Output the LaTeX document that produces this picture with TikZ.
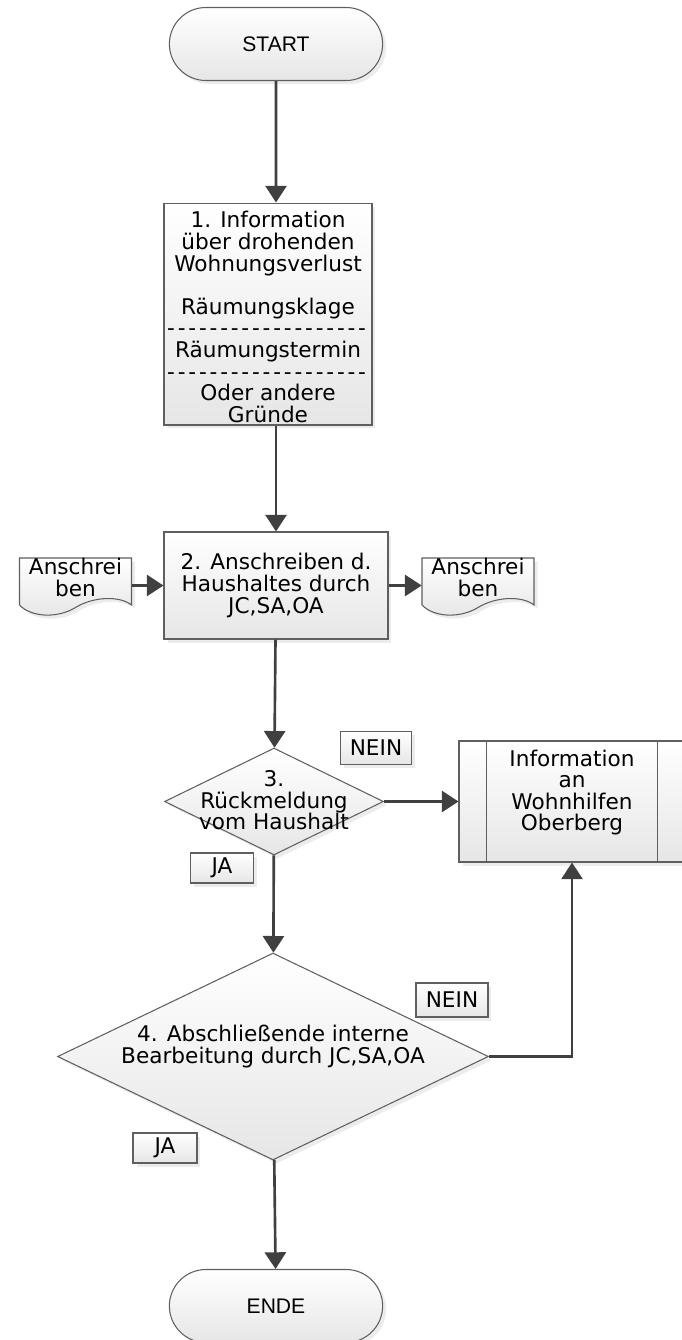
\documentclass[tikz,border=0pt]{standalone}
\usepackage{fontspec}
\setmainfont{DejaVu Sans}
\newfontfamily\termfont{Liberation Sans}
\usetikzlibrary{positioning}
\usetikzlibrary{calc}
\usetikzlibrary{arrows.meta}
\usetikzlibrary{shapes.geometric}
\usetikzlibrary{shapes.misc}
\usetikzlibrary{shadows}
\definecolor{LineGray}{RGB}{95,95,95}
\definecolor{FlowGray}{RGB}{64,64,64}
\definecolor{FillGray}{RGB}{230,230,230}
\newcommand{\trennlinie}{\foreach \i in {1,...,19}{-\kern1.6pt}}

\begin{document}
\begin{tikzpicture}[
 x=0.02cm, y=-0.02cm,
 font=\fontsize{12.3}{12.3}\selectfont,
 boxfill/.style = {draw=LineGray, line width=0.6pt, top color=white, bottom color=FillGray,
                   drop shadow={opacity=0.15, shadow xshift=0.07cm, shadow yshift=-0.07cm}},
 terminal/.style = {boxfill, rounded rectangle, minimum width=4.5cm, minimum height=1.46cm,
                    font=\termfont\fontsize{12}{14}\selectfont},
 process/.style = {boxfill, rectangle, inner sep=0pt},
 decision/.style = {boxfill, diamond, inner sep=0pt},
 doc/.style = {rectangle, inner sep=0pt, minimum width=2.24cm, minimum height=0.94cm},
 answer/.style = {boxfill, rectangle, inner sep=0pt, minimum height=0.64cm},
 txt/.style = {align=center, inner sep=0pt},
 flow/.style = {draw=FlowGray, line width=1.5pt, -{Triangle[length=9.5pt,width=12pt]}},
                        ]
    \useasboundingbox (0,0) rectangle (681,1340);

    \node [terminal] (start) at (276,44) {START};

    \node [process, minimum width=4.16cm, minimum height=4.44cm] (info) at (268,314) {};
    \node [txt] at ($(info)+(0,3)$) {1. Information\\über drohenden\\Wohnungsverlust\\[12.3pt]Räumungsklage\\
           \trennlinie\\Räumungstermin\\ \trennlinie\\Oder andere\\Gründe};

    \node [process, minimum width=4.48cm, minimum height=2.14cm] (anschr) at (276,585.5) {};
    \node [txt] at (anschr) {2. Anschreiben d.\\Haushaltes durch\\JC,SA,OA};

    \node [doc] (docin) at (75.5,581.5) {};
    \node [doc] (docout) at (478,581.5) {};
    \foreach \d in {docin,docout}
      \draw [boxfill] ($(\d)+(-56,-23.5)$) -- ($(\d)+(56,-23.5)$) -- ($(\d)+(56,23.5)$)
            .. controls ($(\d)+(44,14)$) and ($(\d)+(18,15)$) .. ($(\d)+(0,26)$)
            .. controls ($(\d)+(-18,37)$) and ($(\d)+(-44,36)$) .. ($(\d)+(-56,23.5)$) -- cycle;
    \node [txt] at ($(docin)+(0,-4)$) {Anschrei\\ben};
    \node [txt] at ($(docout)+(0,-4)$) {Anschrei\\ben};

    \node [decision, minimum width=4.38cm, minimum height=2.14cm] (rueck) at (274,801.5) {};
    \node [txt] at ($(rueck)+(0,-1)$) {3.\\Rückmeldung\\vom Haushalt};

    \node [process, minimum width=4.52cm, minimum height=2.42cm] (wohn) at (572,801.5) {};
    \draw [LineGray, line width=0.6pt] ($(wohn.north west)+(28,0)$) -- ($(wohn.south west)+(28,0)$)
          ($(wohn.north east)+(-28,0)$) -- ($(wohn.south east)+(-28,0)$);
    \node [txt] at ($(wohn)+(0,-9)$) {Information\\an\\Wohnhilfen\\Oberberg};

    \node [decision, minimum width=8.62cm, minimum height=4.14cm] (absch) at (273,1056.5) {};
    \node [txt] at ($(absch)+(0,-10)$) {4. Abschließende interne\\Bearbeitung durch JC,SA,OA};

    \node [answer, minimum width=1.42cm, minimum height=0.66cm] (nein1) at (376,748) {NEIN};
    \node [answer, minimum width=1.26cm, minimum height=0.6cm] (ja1) at (222,868) {JA};
    \node [answer, minimum width=1.44cm, minimum height=0.68cm] (nein2) at (452,1000) {NEIN};
    \node [answer, minimum width=1.28cm, minimum height=0.6cm] (ja2) at (165,1148) {JA};

    \node [terminal] (ende) at (276,1306) {ENDE};

    % Verbindungen
    \draw [flow] (start) -- (start |- info.north);
    \draw [flow] (anschr |- info.south) -- (anschr);
    \draw [flow] (anschr.west -| docin.east) -- (anschr.west);
    \draw [flow] (anschr.east) -- (anschr.east -| docout.west);
    \draw [flow] (anschr) -- (rueck);
    \draw [flow] (rueck) -- (wohn);
    \draw [flow] (rueck) -- (absch);
    \draw [flow] (absch) -| (wohn);
    \draw [flow] (absch) -- (ende);

\end{tikzpicture}
\end{document}
